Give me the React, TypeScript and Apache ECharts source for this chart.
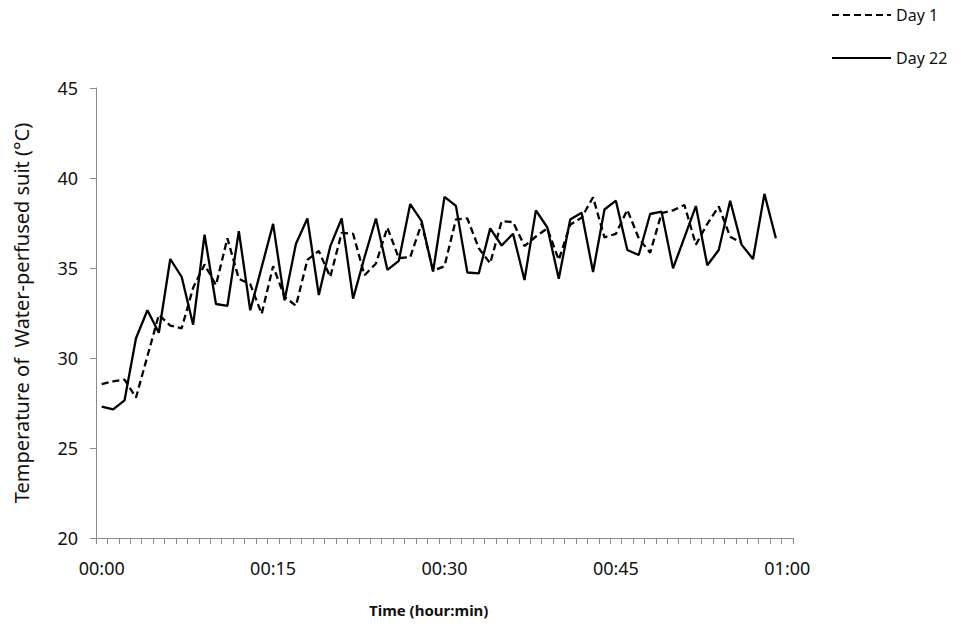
import React, { useEffect, useRef } from "react";
import * as echarts from "echarts";

// Elapsed minutes 0..60 along the time axis
const minutes: number[] = Array.from({ length: 61 }, (_, i) => i);
const timeLabels: string[] = minutes.map((m) => {
  const h = Math.floor(m / 60);
  const mm = m % 60;
  return `${String(h).padStart(2, "0")}:${String(mm).padStart(2, "0")}`;
});

// Suit temperature (°C), one reading per minute
const day1: number[] = [
  28.55, 28.7, 28.8, 27.8, 30.1, 32.4, 31.8, 31.65, 33.9, 35.2,
  34.05, 36.65, 34.4, 34.1, 32.45, 35.1, 33.4, 32.9, 35.45, 35.95,
  34.5, 36.95, 36.9, 34.6, 35.25, 37.25, 35.55, 35.6, 37.48, 34.85,
  35.1, 37.7, 37.75, 36.1, 35.26, 37.6, 37.55, 36.22, 36.75, 37.2,
  35.45, 37.4, 37.8, 38.93, 36.7, 36.9, 38.23, 36.65, 35.85, 38.05,
  38.2, 38.5, 36.3, 37.45, 38.42, 36.74, 36.4,
];

const day22: number[] = [
  27.3, 27.15, 27.65, 31.1, 32.65, 31.4, 35.5, 34.5, 31.85, 36.85,
  33.0, 32.9, 37.05, 32.65, 35.05, 37.45, 33.2, 36.35, 37.75, 33.5,
  36.2, 37.75, 33.3, 35.6, 37.75, 34.9, 35.4, 38.55, 37.6, 34.8,
  38.95, 38.45, 34.75, 34.7, 37.2, 36.25, 36.9, 34.33, 38.2, 37.25,
  34.4, 37.7, 38.07, 34.78, 38.25, 38.74, 36.0, 35.72, 38.0, 38.13,
  34.98, 36.7, 38.44, 35.15, 36.0, 38.74, 36.3, 35.5, 39.12, 36.65,
];

const yTicks = { min: 20, max: 45, step: 5 };

const FONT = "'Noto Sans', 'Open Sans', sans-serif";

export default function App() {
  const ref = useRef<HTMLDivElement>(null);

  useEffect(() => {
    if (!ref.current) return;
    const chart = echarts.init(ref.current, undefined, { renderer: "svg" });
    chart.setOption({
      animation: false,
      backgroundColor: "#ffffff",
      grid: { left: 96, right: 171, top: 88, bottom: 90, containLabel: false },
      legend: {
        orient: "vertical",
        left: 826,
        top: 2,
        itemWidth: 59,
        itemHeight: 14,
        itemGap: 27,
        itemStyle: { opacity: 0 },
        textStyle: { fontFamily: FONT, fontSize: 16, color: "#111" },
        data: ["Day 1", "Day 22"],
      },
      xAxis: {
        type: "category",
        data: timeLabels,
        boundaryGap: true,
        axisLine: { lineStyle: { color: "#8a8a8a", width: 1 } },
        axisTick: {
          show: true,
          interval: 0,
          alignWithLabel: false,
          length: 6,
          inside: false,
          lineStyle: { color: "#8a8a8a" },
        },
        axisLabel: {
          interval: (i: number) => i % 15 === 0,
          margin: 21,
          fontFamily: FONT,
          fontSize: 18,
          color: "#111",
        },
        splitLine: { show: false },
      },
      yAxis: {
        type: "value",
        min: yTicks.min,
        max: yTicks.max,
        interval: yTicks.step,
        name: "Temperature of  Water-perfused suit (°C)",
        nameLocation: "middle",
        nameGap: 65,
        nameTextStyle: { fontFamily: FONT, fontSize: 20, color: "#111" },
        axisLine: { show: true, lineStyle: { color: "#8a8a8a", width: 1 } },
        axisTick: { show: true, length: 6, lineStyle: { color: "#8a8a8a" } },
        axisLabel: { margin: 18, fontFamily: FONT, fontSize: 18, color: "#111" },
        splitLine: { show: false },
      },
      graphic: [
        {
          type: "text",
          left: 369,
          top: 602,
          style: {
            text: "Time (hour:min)",
            font: `bold 15px ${FONT}`,
            fill: "#111",
          },
        },
      ],
      series: [
        {
          name: "Day 1",
          type: "line",
          data: day1,
          symbol: "none",
          lineStyle: { color: "#000", width: 2.3, type: [7, 4] },
          itemStyle: { color: "#000" },
        },
        {
          name: "Day 22",
          type: "line",
          data: day22,
          symbol: "none",
          lineStyle: { color: "#000", width: 2.3, type: "solid" },
          itemStyle: { color: "#000" },
        },
      ],
    });
    return () => chart.dispose();
  }, []);

  return <div ref={ref} style={{ width: 964, height: 628, position: "absolute", left: 0, top: 0 }} />;
}
